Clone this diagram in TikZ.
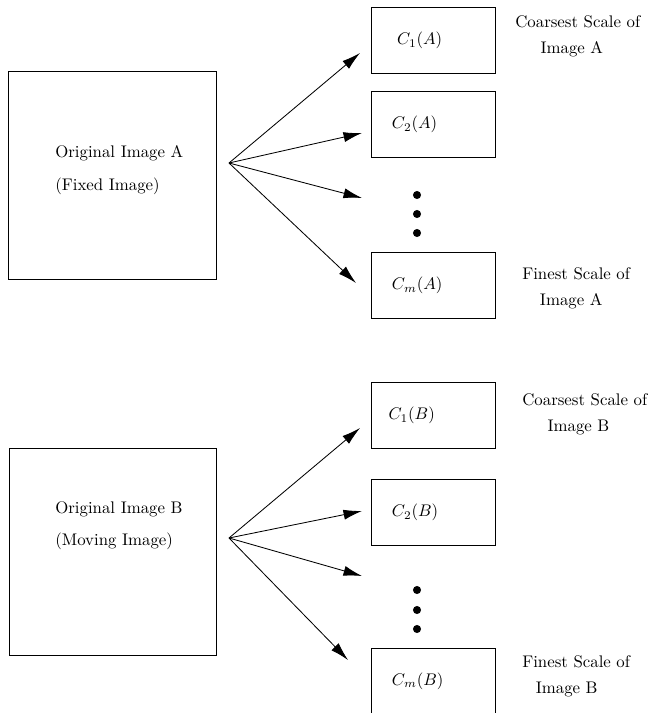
\documentclass[tikz,border=0pt]{standalone}
\usetikzlibrary{arrows.meta}
\begin{document}
\begin{tikzpicture}[
            x=0.595pt, y=-0.595pt,
            big/.style={rectangle, draw, line width=0.6pt, minimum width=123.2pt, minimum height=123.2pt},
            levelbox/.style={rectangle, draw, line width=0.6pt, minimum width=73.2pt, minimum height=38.7pt, inner xsep=11.9pt, text width=49.4pt, align=left},
            caption/.style={align=left, inner sep=0pt, anchor=north west},
            bullet/.style={circle, fill, inner sep=0pt, minimum size=4.8pt},
            arr/.style={-{Latex[length=11pt,width=6pt]}, line width=0.5pt},
        ]
            \useasboundingbox (0,0) rectangle (647,713);
            \clip (0,0) rectangle (647,713);
            % image A
            \node[big](imgAnode) at (112.5,175.5) {};
            \node[caption](txtAnode) at (55,145.5) {Original Image A\\[7.6pt](Fixed Image)};
            \node[levelbox](c1Anode) at (433.5,40.5) {\hspace*{3pt}$C_1(A)$};
            \node[levelbox](c2Anode) at (433.5,124.5) {$C_2(A)$};
            \node[levelbox](cmAnode) at (433.5,285.5) {$C_m(A)$};
            \node[bullet](dotA1) at (417,195) {};
            \node[bullet](dotA2) at (417,214) {};
            \node[bullet](dotA3) at (417,233) {};
            \node[caption](capc1Anode) at (515,15) {Coarsest Scale of\\[3.5pt]\hspace*{15pt}Image A};
            \node[caption](capcmAnode) at (522,267) {Finest Scale of\\[3.5pt]\hspace*{10.5pt}Image A};
            \coordinate (srcA) at (229,163);
            \coordinate (tipA1) at (360,53);
            \coordinate (tipA2) at (362,133);
            \coordinate (tipA3) at (362,198);
            \coordinate (tipA4) at (356,283);
            \draw[arr] (srcA) -- (tipA1);
            \draw[arr] (srcA) -- (tipA2);
            \draw[arr] (srcA) -- (tipA3);
            \draw[arr] (srcA) -- (tipA4);
            % image B
            \node[big](imgBnode) at (113,552) {};
            \node[caption](txtBnode) at (55,501.5) {Original Image B\\[7.2pt](Moving Image)};
            \node[levelbox](c1Bnode) at (433.5,415.5) {\hspace*{-2pt}$C_1(B)$};
            \node[levelbox](c2Bnode) at (433.5,512.5) {$C_2(B)$};
            \node[levelbox](cmBnode) at (433.5,681) {$C_m(B)$};
            \node[bullet](dotB1) at (417,590) {};
            \node[bullet](dotB2) at (417,610) {};
            \node[bullet](dotB3) at (417,629) {};
            \node[caption](capc1Bnode) at (522,393) {Coarsest Scale of\\[3.5pt]\hspace*{15pt}Image B};
            \node[caption](capcmBnode) at (522,655) {Finest Scale of\\[3.5pt]\hspace*{8pt}Image B};
            \coordinate (srcB) at (229,538);
            \coordinate (tipB1) at (360,428);
            \coordinate (tipB2) at (362,511);
            \coordinate (tipB3) at (362,576);
            \coordinate (tipB4) at (348,660);
            \draw[arr] (srcB) -- (tipB1);
            \draw[arr] (srcB) -- (tipB2);
            \draw[arr] (srcB) -- (tipB3);
            \draw[arr] (srcB) -- (tipB4);
        \end{tikzpicture}
\end{document}
